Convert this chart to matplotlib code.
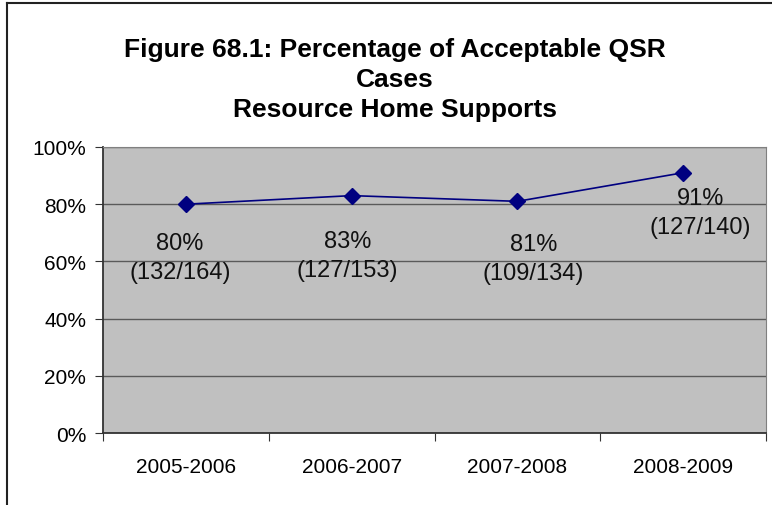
import matplotlib
matplotlib.use('Agg')
from matplotlib import pyplot as plt
from matplotlib.lines import Line2D
from matplotlib.ticker import FixedLocator

plt.rcParams['font.family'] = ['Liberation Sans', 'DejaVu Sans']

# data
YEARS = ['2005-2006', '2006-2007', '2007-2008', '2008-2009']
PCT = [80, 83, 81, 91]
CASES = ['(132/164)', '(127/153)', '(109/134)', '(127/140)']
TITLE = 'Figure 68.1: Percentage of Acceptable QSR\nCases\nResource Home Supports'

# label offsets from each point, in pixels (manually placed like the original)
LABEL_OFFSETS = [(-6, -53), (-4, -60), (16, -57), (17, -40)]

W, H = 772, 506
fig = plt.figure(figsize=(W / 100, H / 100), dpi=100)
ax = fig.add_axes([103 / W, 1 - 434 / H, (766 - 103) / W, (434 - 148) / H])
ax.set_facecolor('#c0c0c0')

x = list(range(len(YEARS)))
ax.plot(x, PCT, color='#000080', lw=1.2, marker='D', ms=8, mec='#000080', mfc='#000080', zorder=3)

for xi, p, c, (dx, dy) in zip(x, PCT, CASES, LABEL_OFFSETS):
    ax.annotate(f'{p}%\n{c}', (xi, p), xytext=(dx, dy), textcoords='offset pixels',
                ha='center', va='center', fontsize=17, linespacing=1.4, color='#111111')

ax.set_xlim(-0.5, len(YEARS) - 0.5)
ax.set_ylim(0, 100)
ax.set_yticks(range(0, 101, 20))
ax.set_yticklabels([f'{v}%' for v in range(0, 101, 20)], fontsize=15)
ax.yaxis.grid(True, color='#5a5a5a', lw=1)
ax.set_axisbelow(True)

# ticks on category boundaries, labels in between
ax.xaxis.set_major_locator(FixedLocator([i - 0.5 for i in range(len(YEARS) + 1)]))
ax.xaxis.set_minor_locator(FixedLocator(x))
ax.set_xticklabels([''] * (len(YEARS) + 1))
ax.set_xticklabels(YEARS, minor=True, fontsize=15)
ax.tick_params(axis='x', which='major', direction='out', length=6, color='#333333')
ax.tick_params(axis='x', which='minor', length=0, pad=17)
ax.tick_params(axis='y', direction='out', length=6, pad=6, color='#333333')

for side in ['top', 'right']:
    ax.spines[side].set_color('#808080')
for side in ['left', 'bottom']:
    ax.spines[side].set_color('#333333')
    ax.spines[side].set_linewidth(1.3)

fig.text(395 / W, 1 - 38 / H, TITLE, ha='center', va='top', fontsize=19,
         fontweight='bold', linespacing=1.32)

# outer chart border (runs off the bottom/right of the image)
fig.add_artist(Line2D([7 / W, 7 / W], [0, 1 - 4 / H], color='#222222', lw=1.5))
fig.add_artist(Line2D([7 / W, 1], [1 - 4 / H, 1 - 4 / H], color='#222222', lw=1.5))

fig.savefig('out.png', dpi=100)
